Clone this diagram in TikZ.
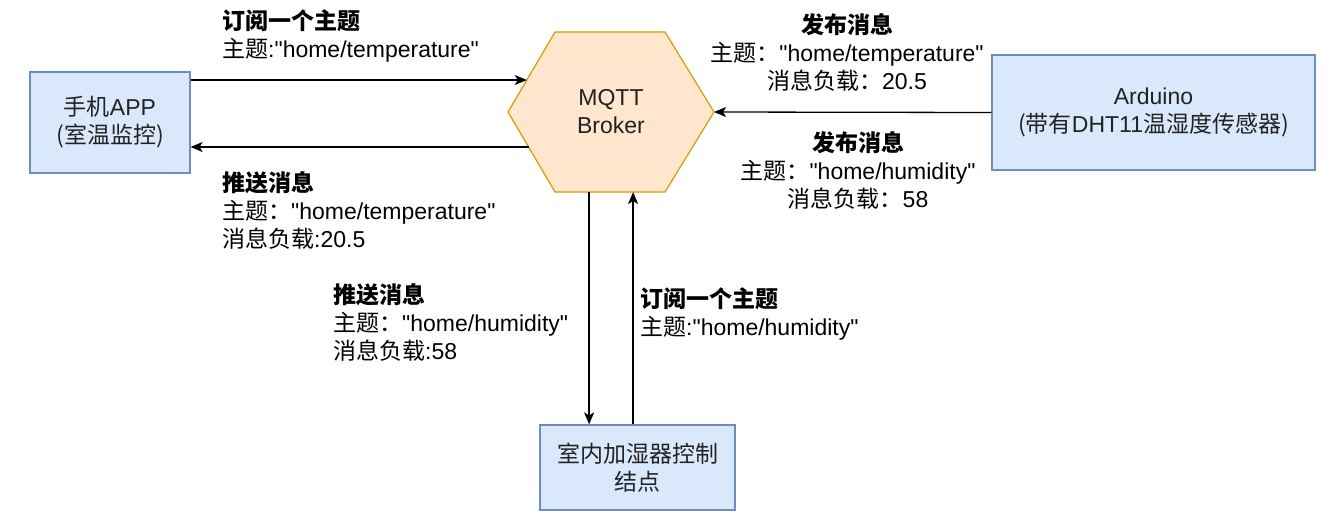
\documentclass[tikz,border=0pt]{standalone}
\usepackage{fontspec}
\setmainfont{Liberation Sans}[Ligatures=TeXOff]
\newfontfamily\cjk{Noto Sans CJK SC}
\usetikzlibrary{calc, positioning, arrows.meta}

\definecolor{boxfill}{HTML}{DAE8FC}
\definecolor{boxline}{HTML}{6C8EBF}
\definecolor{hexfill}{HTML}{FFE6CC}
\definecolor{hexline}{HTML}{D79B00}
\definecolor{txt}{HTML}{222222}

\newcommand{\zh}[1]{{\cjk #1}}

\tikzset{
  devbox/.style={draw=boxline, fill=boxfill, line width=1.2pt, align=center, text=txt, inner sep=0pt},
  lbl/.style={align=left, inner sep=0pt},
  lblc/.style={align=center, inner sep=0pt},
  flow/.style={->, line width=1.3pt}
}

\begin{document}
\begin{tikzpicture}[x=1pt, y=-1pt, >={Stealth[length=12pt, width=10pt, inset=3pt]},
  font=\fontsize{23}{28}\selectfont]
  \useasboundingbox (0,0) rectangle (1340,525);

  % broker hexagon
  \coordinate (hexW) at (508,112);
  \coordinate (hexNW) at (555,32);
  \coordinate (hexNE) at (665,32);
  \coordinate (hexE) at (714,112);
  \coordinate (hexSE) at (665,192);
  \coordinate (hexSW) at (555,192);
  \draw [hexline, fill=hexfill, line width=1.2pt]
    (hexW) -- (hexNW) -- (hexNE) -- (hexE) -- (hexSE) -- (hexSW) -- cycle;
  \node [align=center, text=txt] (broker) at (611,112) {MQTT\\Broker};

  % clients
  \node [devbox, minimum width=160pt, minimum height=101pt] (app) at (110,122.5)
    {\zh{手机}APP\\\zh{(室温监控)}};
  \node [devbox, minimum width=323pt, minimum height=115pt] (arduino) at (1153.5,112.5)
    {Arduino\\\zh{(带有}DHT11\zh{温湿度传感器)}};
  \node [devbox, minimum width=195pt, minimum height=85pt] (humid) at (637.5,467.5)
    {\zh{室内加湿器控制}\\\zh{结点}};

  % points on the hexagon
  \coordinate (inApp) at ($(hexW)!0.4!(hexNW)$);
  \coordinate (outApp) at ($(hexW)!0.4375!(hexSW)$);
  \coordinate (outHum) at ($(hexSW)!0.31!(hexSE)$);
  \coordinate (inHum) at ($(hexSW)!0.71!(hexSE)$);

  \draw [flow] (app.east |- inApp) -- (inApp);
  \draw [flow] (outApp) -- (app.east |- outApp);
  \draw [flow] (arduino.west) -- (hexE);
  \draw [flow] (outHum) -- (outHum |- humid.north);
  \draw [flow] (inHum |- humid.north) -- (inHum);

  % labels
  \node [lbl, anchor=north west] (subTemp) at (222,10)
    {\textbf{\zh{订阅一个主题}}\\\zh{主题}:"home/temperature"};
  \node [lbl, anchor=north west] (pushTemp) at (222,171)
    {\textbf{\zh{推送消息}}\\\zh{主题：}"home/temperature"\\\zh{消息负载}:20.5};
  \node [lblc, anchor=north] (pubTemp) at (847,13)
    {\textbf{\zh{发布消息}}\\\zh{主题：}"home/temperature"\\\zh{消息负载：}20.5};
  \node [lblc, anchor=north] (pubHum) at (858,131)
    {\textbf{\zh{发布消息}}\\\zh{主题：}"home/humidity"\\\zh{消息负载：}58};
  \node [lbl, anchor=north west] (pushHum) at (333,283)
    {\textbf{\zh{推送消息}}\\\zh{主题：}"home/humidity"\\\zh{消息负载}:58};
  \node [lbl, anchor=north west] (subHum) at (640,288)
    {\textbf{\zh{订阅一个主题}}\\\zh{主题}:"home/humidity"};
\end{tikzpicture}
\end{document}
